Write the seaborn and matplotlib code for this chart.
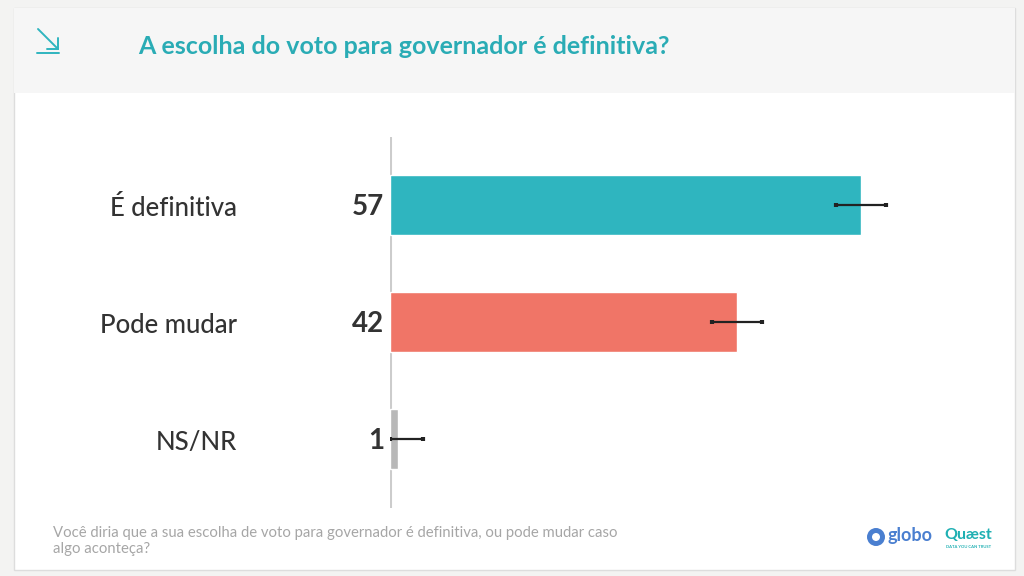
import matplotlib
matplotlib.use("Agg")
import matplotlib.pyplot as plt
import matplotlib.patches as mpatches
import matplotlib.transforms as mtransforms
import seaborn as sns
import pandas as pd

# ── data ──────────────────────────────────────────────────
categorias = ["É definitiva", "Pode mudar", "NS/NR"]
valores = [57, 42, 1]
erro_menos = [3, 3, 1]
erro_mais = [3, 3, 3]
cores = ["#2fb5bf", "#f07567", "#b8b8b8"]

titulo = "A escolha do voto para governador é definitiva?"
pergunta = ("Você diria que a sua escolha de voto para governador é definitiva, ou pode mudar caso\n"
            "algo aconteça?")

df = pd.DataFrame({"categoria": categorias, "valor": valores})

sns.set_theme(style="white")
plt.rcParams["font.family"] = ["Lato", "DejaVu Sans"]

fig = plt.figure(figsize=(10.24, 5.76), dpi=100)
fig.patch.set_facecolor("#f3f3f2")

# ── card + header band ────────────────────────────────────
W, H = 1024, 576
card = mpatches.Rectangle((14 / W, 1 - 570 / H), (1015 - 14) / W, (570 - 8) / H,
                          transform=fig.transFigure, facecolor="white",
                          edgecolor="#dddddd", lw=1, zorder=0)
header = mpatches.Rectangle((14 / W, 1 - 93 / H), (1015 - 14) / W, (93 - 8) / H,
                            transform=fig.transFigure, facecolor="#f6f6f6",
                            edgecolor="none", zorder=0)
fig.patches.extend([card, header])

# arrow icon
teal = "#2fb5bf"
fig.add_artist(plt.Line2D([38 / W, 58 / W], [1 - 29 / H, 1 - 49 / H], color=teal, lw=1.4))
fig.add_artist(plt.Line2D([58 / W, 58 / W], [1 - 38 / H, 1 - 49 / H], color=teal, lw=1.4))
fig.add_artist(plt.Line2D([47 / W, 58 / W], [1 - 49 / H, 1 - 49 / H], color=teal, lw=1.4))
fig.add_artist(plt.Line2D([37 / W, 59 / W], [1 - 53 / H, 1 - 53 / H], color=teal, lw=1.4))

fig.text(138 / W, 1 - 47 / H, titulo, color="#2aacb5", fontsize=18,
         fontweight="bold", va="center", ha="left")

# ── bars ──────────────────────────────────────────────────
ax = fig.add_axes([390 / W, 1 - 508 / H, 620 / W, (508 - 137) / H])
ax.set_zorder(5)
ax.set_facecolor("none")
sns.barplot(data=df, x="valor", y="categoria", hue="categoria", palette=cores,
            order=categorias, hue_order=categorias, width=0.51, legend=False,
            saturation=1, ax=ax, zorder=2)
ax.errorbar(valores, range(len(valores)), xerr=[erro_menos, erro_mais], fmt="none",
            ecolor="#222222", elinewidth=1.6, capsize=1.2, capthick=3, zorder=3)

ax.set_xlim(0, 620 / 8.263)
ax.set_ylim(2.59, -0.58)
ax.axvline(0, color="#cccccc", lw=2.2, zorder=1)
sns.despine(ax=ax, left=True, bottom=True)
ax.set_xticks([])
ax.set_yticks([])
ax.set_xlabel("")
ax.set_ylabel("")

trans = mtransforms.blended_transform_factory(ax.transAxes, ax.transData)
for i, (cat, val) in enumerate(zip(categorias, valores)):
    ax.text((237 - 390) / 620, i + 0.03, cat, transform=trans, ha="right", va="center",
            fontsize=18.5, fontweight="medium", color="#333333", clip_on=False)
    ax.text((384 - 390) / 620, i + 0.02, str(val), transform=trans, ha="right", va="center",
            fontsize=20, fontweight="bold", color="#333333", clip_on=False)

# ── footer ────────────────────────────────────────────────
fig.text(53 / W, 1 - 541 / H, pergunta, color="#a6a6a6", fontsize=10.7,
         va="center", ha="left", linespacing=1.15)
fig.add_artist(mpatches.Ellipse((876 / W, 1 - 537 / H), 18 / W, 18 / H,
                                transform=fig.transFigure, facecolor="#4a7fd0",
                                edgecolor="none"))
fig.add_artist(mpatches.Ellipse((876 / W, 1 - 537 / H), 8 / W, 8 / H,
                                transform=fig.transFigure, facecolor="white",
                                edgecolor="none"))
fig.text(887 / W, 1 - 536 / H, "globo", color="#4a7fd0", fontsize=13,
         fontweight="bold", va="center", ha="left")
fig.text(944 / W, 1 - 535 / H, "Quæst", color="#1fb0b3", fontsize=11.5,
         fontweight="bold", va="center", ha="left")
fig.text(946 / W, 1 - 547 / H, "DATA YOU CAN TRUST", color="#1fb0b3", fontsize=3,
         fontweight="bold", va="center", ha="left")

fig.savefig("out.png", dpi=100)
